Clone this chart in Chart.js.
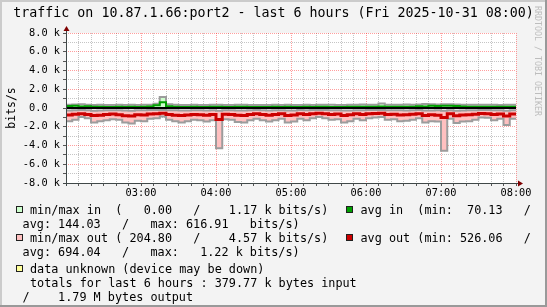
<!DOCTYPE html>
<html>
<head>
<meta charset="utf-8">
<title>traffic on 10.87.1.66:port2</title>
<script src="https://cdn.jsdelivr.net/npm/chart.js@4.4.1/dist/chart.umd.min.js"></script>
<style>
  html, body { margin: 0; padding: 0; background: #f3f3f3; }
  #wrap { width: 547px; height: 307px; }
</style>
</head>
<body>
<div id="wrap"><canvas id="traffic" width="547" height="307"></canvas></div>
<script>
/* ============================================================
   RRDtool-style traffic graph, last 6 hours, drawn with Chart.js.
   Values in k bits/s, one sample every 5 minutes from 02:00.
   ============================================================ */

// minutes after 02:00
const sampleMinutes = [
  0, 5, 10, 15, 20, 25, 30, 35, 40, 45, 50, 55,
  60, 65, 70, 75, 80, 85, 90, 95, 100, 105, 110, 115,
  120, 125, 130, 135, 140, 145, 150, 155, 160, 165, 170, 175,
  180, 185, 190, 195, 200, 205, 210, 215, 220, 225, 230, 235,
  240, 245, 250, 255, 260, 265, 270, 275, 280, 285, 290, 295,
  300, 305, 310, 315, 320, 325, 330, 335, 340, 345, 350, 355,
  360,
];

const maxIn = [
  0.34, 0.38, 0.40, 0.36, 0.33, 0.35, 0.32, 0.31, 0.34, 0.33, 0.35, 0.32,
  0.34, 0.36, 0.45, 1.17, 0.40, 0.34, 0.33, 0.32, 0.35, 0.33, 0.31, 0.34,
  0.36, 0.33, 0.32, 0.34, 0.35, 0.33, 0.32, 0.31, 0.33, 0.34, 0.32, 0.35,
  0.33, 0.32, 0.34, 0.33, 0.36, 0.35, 0.34, 0.33, 0.32, 0.34, 0.35, 0.38,
  0.36, 0.34, 0.47, 0.36, 0.34, 0.35, 0.37, 0.36, 0.38, 0.42, 0.40, 0.38,
  0.41, 0.39, 0.37, 0.36, 0.35, 0.34, 0.36, 0.35, 0.34, 0.33, 0.35, 0.34,
  0.34,
];

const avgIn = [
  0.22, 0.24, 0.15, 0.20, 0.14, 0.13, 0.12, 0.12, 0.13, 0.12, 0.13, 0.12,
  0.13, 0.15, 0.30, 0.62, 0.18, 0.13, 0.12, 0.12, 0.13, 0.12, 0.12, 0.13,
  0.14, 0.12, 0.12, 0.13, 0.13, 0.12, 0.12, 0.12, 0.12, 0.13, 0.12, 0.13,
  0.12, 0.12, 0.13, 0.12, 0.13, 0.13, 0.12, 0.12, 0.12, 0.13, 0.13, 0.14,
  0.13, 0.13, 0.15, 0.14, 0.13, 0.13, 0.14, 0.14, 0.20, 0.15, 0.24, 0.22,
  0.25, 0.23, 0.21, 0.15, 0.14, 0.13, 0.14, 0.14, 0.13, 0.13, 0.14, 0.13,
  0.13,
];

// outbound values are positive here and drawn below zero
const minOut = [
  0.26, 0.24, 0.22, 0.25, 0.28, 0.26, 0.24, 0.23, 0.25, 0.27, 0.28, 0.25,
  0.24, 0.22, 0.21, 0.20, 0.23, 0.25, 0.27, 0.26, 0.24, 0.23, 0.26, 0.25,
  0.30, 0.24, 0.23, 0.26, 0.27, 0.25, 0.22, 0.23, 0.26, 0.25, 0.23, 0.27,
  0.26, 0.22, 0.23, 0.22, 0.21, 0.21, 0.23, 0.24, 0.27, 0.26, 0.23, 0.24,
  0.22, 0.21, 0.21, 0.23, 0.24, 0.25, 0.26, 0.24, 0.22, 0.27, 0.26, 0.25,
  0.30, 0.23, 0.28, 0.27, 0.25, 0.24, 0.21, 0.21, 0.24, 0.23, 0.29, 0.23,
  0.23,
];

const avgOut = [
  0.74, 0.66, 0.62, 0.70, 0.80, 0.76, 0.70, 0.64, 0.72, 0.82, 0.86, 0.72,
  0.74, 0.64, 0.62, 0.56, 0.70, 0.76, 0.80, 0.74, 0.68, 0.72, 0.78, 0.70,
  1.22, 0.66, 0.70, 0.78, 0.80, 0.68, 0.62, 0.70, 0.76, 0.68, 0.62, 0.80,
  0.74, 0.60, 0.70, 0.60, 0.56, 0.62, 0.68, 0.64, 0.80, 0.72, 0.62, 0.70,
  0.62, 0.58, 0.56, 0.68, 0.66, 0.74, 0.72, 0.66, 0.60, 0.80, 0.72, 0.76,
  1.00, 0.62, 0.82, 0.74, 0.72, 0.66, 0.58, 0.60, 0.70, 0.64, 0.86, 0.64,
  0.64,
];

const maxOut = [
  1.40, 1.25, 0.95, 1.10, 1.55, 1.40, 1.30, 1.20, 1.25, 1.55, 1.65, 1.35,
  1.40, 1.15, 1.10, 0.90, 1.25, 1.40, 1.55, 1.40, 1.25, 1.30, 1.45, 1.30,
  4.30, 1.20, 1.25, 1.50, 1.55, 1.30, 1.15, 1.30, 1.45, 1.30, 1.15, 1.55,
  1.45, 1.15, 1.30, 1.10, 0.95, 1.10, 1.25, 1.20, 1.55, 1.40, 1.15, 1.30,
  1.10, 1.00, 0.95, 1.25, 1.20, 1.40, 1.35, 1.25, 1.10, 1.55, 1.40, 1.45,
  4.57, 1.15, 1.60, 1.45, 1.40, 1.25, 1.00, 1.05, 1.30, 1.15, 1.80, 1.15,
  1.15,
];

const hourTicks = [60, 120, 180, 240, 300, 360];
const hourLabels = ['03:00', '04:00', '05:00', '06:00', '07:00', '08:00'];
const yTicks = [-8, -6, -4, -2, 0, 2, 4, 6, 8];
const yLabels = ['-8.0 k', '-6.0 k', '-4.0 k', '-2.0 k', '0.0  ', '2.0 k', '4.0 k', '6.0 k', '8.0 k'];

const TITLE = 'traffic on 10.87.1.66:port2 - last 6 hours (Fri 2025-10-31 08:00)';
const legendRows = [
  [30, 213.5, 'min/max in  (   0.00   /    1.17 k bits/s)'],
  [360.5, 213.5, 'avg in  (min:  70.13   /'],
  [22.6, 227.5, 'avg: 144.03   /   max: 616.91   bits/s)'],
  [30, 241.5, 'min/max out ( 204.80   /    4.57 k bits/s)'],
  [360.5, 241.5, 'avg out (min: 526.06   /'],
  [22.6, 255.5, 'avg: 694.04   /   max:   1.22 k bits/s)'],
  [30, 272.5, 'data unknown (device may be down)'],
  [30, 286.5, 'totals for last 6 hours : 379.77 k bytes input'],
  [22.6, 301, '/    1.79 M bytes output'],
];
const swatches = [
  [16, 206, '#ccffcc'],
  [346, 206, '#00a000'],
  [16, 234, '#ffc0c0'],
  [346, 234, '#cc0000'],
  [16, 265, '#ffff99'],
];

const MONO = '"DejaVu Sans Mono", "Liberation Mono", monospace';
const GREY = '#9c9c9c';
const MAJOR = 'rgba(255, 0, 0, 0.38)';
const MINOR = 'rgba(140, 140, 140, 0.5)';

function toPoints(values, sign) {
  return values.map((v, i) => ({ x: sampleMinutes[i], y: sign * v }));
}

const rrdFrame = {
  id: 'rrdFrame',
  beforeDraw(chart) {
    const { ctx, width, height, chartArea: a } = chart;
    ctx.save();
    ctx.fillStyle = '#f3f3f3';
    ctx.fillRect(0, 0, width, height);
    ctx.fillStyle = '#cbcbcb';
    ctx.fillRect(0, 0, width, 2);
    ctx.fillRect(0, 0, 2, height);
    ctx.fillStyle = '#999999';
    ctx.fillRect(0, height - 2, width, 2);
    ctx.fillRect(width - 2, 0, 2, height);
    ctx.fillStyle = '#ffffff';
    ctx.fillRect(a.left, a.top, a.right - a.left, a.bottom - a.top);
    ctx.restore();
  },
  afterDatasetsDraw(chart) {
    const { ctx, chartArea: a, scales } = chart;
    const y0 = scales.y.getPixelForValue(0);
    ctx.save();
    ctx.strokeStyle = '#000';
    ctx.lineWidth = 2;
    ctx.beginPath();
    ctx.moveTo(a.left, y0);
    ctx.lineTo(a.right, y0);
    ctx.stroke();
    ctx.restore();
  },
  afterDraw(chart) {
    const { ctx, chartArea: a } = chart;
    ctx.save();

    // axes + arrows
    ctx.strokeStyle = '#404848';
    ctx.lineWidth = 1;
    ctx.beginPath();
    ctx.moveTo(a.left + 0.5, a.bottom + 3);
    ctx.lineTo(a.left + 0.5, a.top - 4);
    ctx.moveTo(a.left - 3, a.bottom + 0.5);
    ctx.lineTo(a.right + 3, a.bottom + 0.5);
    ctx.stroke();
    ctx.fillStyle = '#7f0000';
    ctx.beginPath();
    ctx.moveTo(a.left - 2.5, a.top - 2);
    ctx.lineTo(a.left + 3.5, a.top - 2);
    ctx.lineTo(a.left + 0.5, a.top - 7);
    ctx.closePath();
    ctx.fill();
    ctx.beginPath();
    ctx.moveTo(a.right + 2, a.bottom - 2.5);
    ctx.lineTo(a.right + 2, a.bottom + 3.5);
    ctx.lineTo(a.right + 7, a.bottom + 0.5);
    ctx.closePath();
    ctx.fill();

    // title
    ctx.fillStyle = '#000';
    ctx.textBaseline = 'alphabetic';
    ctx.textAlign = 'center';
    ctx.font = '13.3px ' + MONO;
    ctx.fillText(TITLE, 273.5, 17.3);

    // vertical unit label
    ctx.save();
    ctx.translate(15, 108);
    ctx.rotate(-Math.PI / 2);
    ctx.font = '11.5px ' + MONO;
    ctx.fillText('bits/s', 0, 0);
    ctx.restore();

    // watermark
    ctx.save();
    ctx.translate(534.5, 6);
    ctx.rotate(Math.PI / 2);
    ctx.textAlign = 'left';
    ctx.fillStyle = '#bdbdbd';
    ctx.font = '8.3px ' + MONO;
    ctx.fillText('RRDTOOL / TOBI OETIKER', 0, 0);
    ctx.restore();

    // legend
    swatches.forEach(([x, y, color]) => {
      ctx.fillStyle = color;
      ctx.fillRect(x, y, 7, 7);
      ctx.strokeStyle = '#202020';
      ctx.strokeRect(x + 0.5, y + 0.5, 6, 6);
    });
    ctx.fillStyle = '#000';
    ctx.textAlign = 'left';
    ctx.font = '11.8px ' + MONO;
    legendRows.forEach(([x, y, text]) => ctx.fillText(text, x, y));

    ctx.restore();
  },
};

const tickFont = { family: MONO, size: 10.3 };

new Chart(document.getElementById('traffic'), {
  type: 'line',
  data: {
    datasets: [
      { label: 'avg out', data: toPoints(avgOut, -1), borderColor: '#cc0000', borderWidth: 3, fill: false },
      { label: 'avg in', data: toPoints(avgIn, 1), borderColor: '#00a000', borderWidth: 2, fill: false },
      { label: 'min out', data: toPoints(minOut, -1), borderColor: GREY, borderWidth: 2, fill: false },
      { label: 'max out', data: toPoints(maxOut, -1), borderColor: GREY, borderWidth: 2, fill: 2, backgroundColor: '#ffc0c0' },
      { label: 'max in', data: toPoints(maxIn, 1), borderColor: GREY, borderWidth: 2, fill: 'origin', backgroundColor: '#ccffcc' },
    ],
  },
  options: {
    responsive: false,
    animation: false,
    events: [],
    layout: { padding: { left: 16, right: 31, top: 33, bottom: 104 } },
    elements: {
      point: { radius: 0 },
      line: { stepped: true, tension: 0, borderJoinStyle: 'miter' },
    },
    plugins: { legend: { display: false }, tooltip: { enabled: false } },
    scales: {
      x: {
        type: 'linear',
        min: 0,
        max: 360,
        afterFit: (s) => { s.height = 20; },
        ticks: {
          stepSize: 10,
          autoSkip: false,
          maxRotation: 0,
          padding: 1,
          color: '#000',
          font: tickFont,
          callback: (v) => {
            const i = hourTicks.indexOf(v);
            return i < 0 ? '' : hourLabels[i];
          },
        },
        grid: {
          color: (c) => (c.tick && c.tick.value % 60 === 0 ? MAJOR : MINOR),
          tickLength: 3,
          tickColor: '#555',
          tickBorderDash: [1, 0],
        },
        border: { display: false, dash: [1, 1] },
      },
      y: {
        min: -8,
        max: 8,
        afterFit: (s) => { s.width = 50; },
        ticks: {
          stepSize: 1,
          autoSkip: false,
          padding: 3,
          color: '#000',
          font: tickFont,
          callback: (v) => {
            const i = yTicks.indexOf(v);
            return i < 0 ? '' : yLabels[i];
          },
        },
        grid: {
          color: (c) => (c.tick && c.tick.value % 2 === 0 ? MAJOR : MINOR),
          tickLength: 3,
          tickColor: '#555',
          tickBorderDash: [1, 0],
        },
        border: { display: false, dash: [1, 1] },
      },
    },
  },
  plugins: [rrdFrame],
});
</script>
</body>
</html>
